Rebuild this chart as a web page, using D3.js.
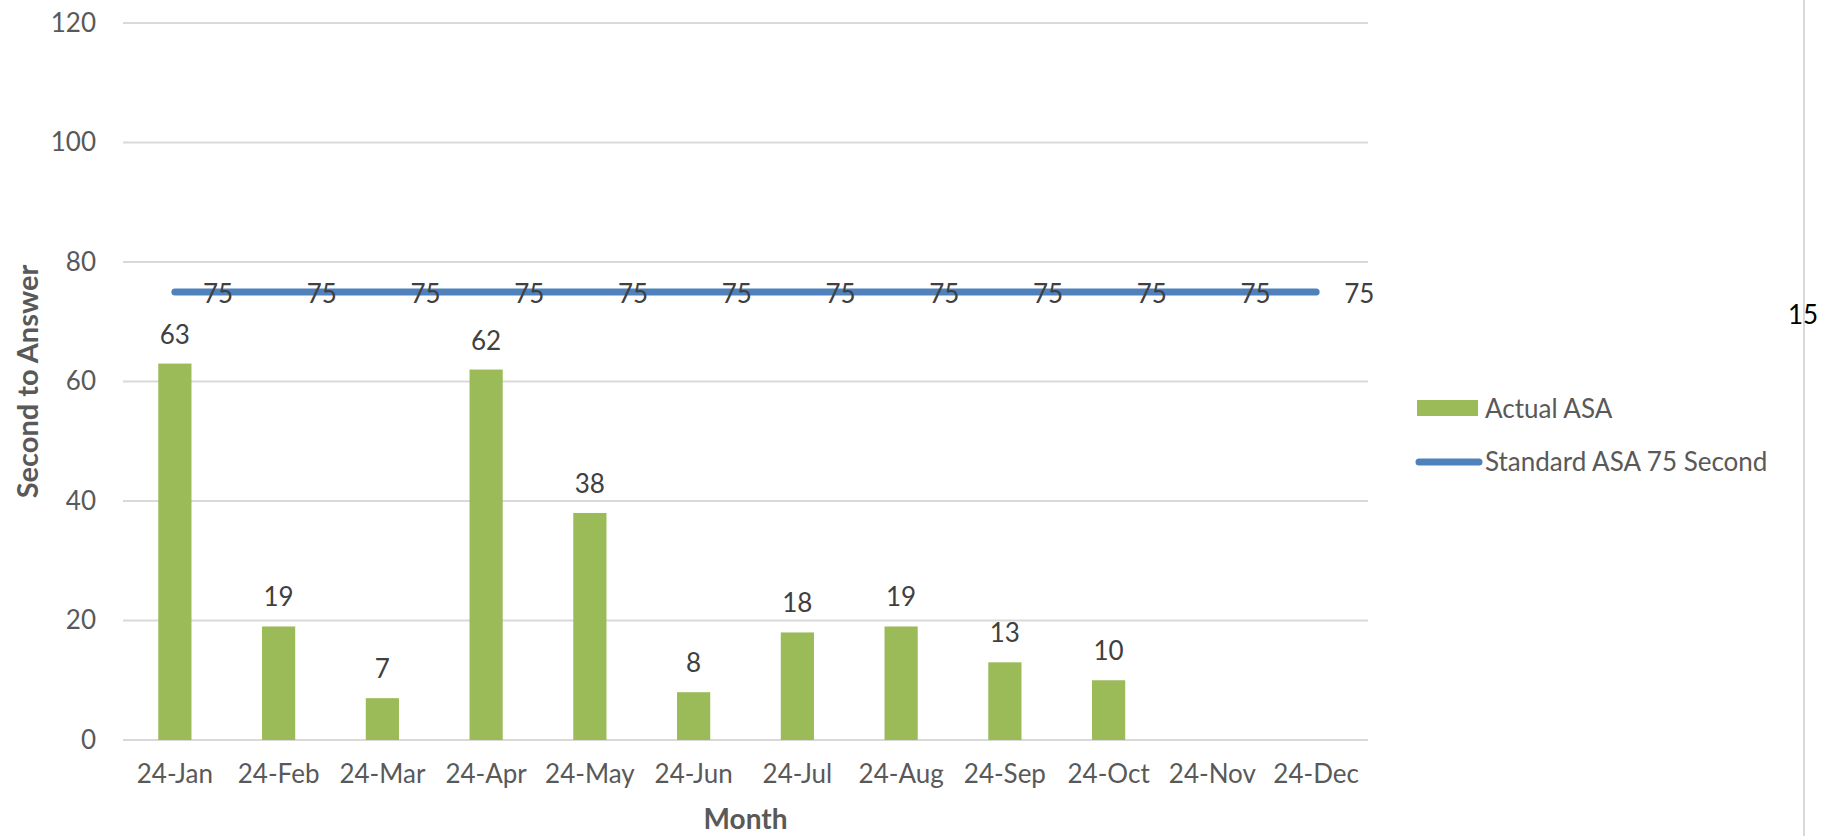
<!DOCTYPE html>
<html>
<head>
<meta charset="utf-8">
<script src="https://cdn.jsdelivr.net/npm/d3@7"></script>
<style>
  body { margin: 0; background: #fff; }
  text { font-family: Lato, "Open Sans", sans-serif; }
</style>
</head>
<body>
<script>
var months = ["24-Jan", "24-Feb", "24-Mar", "24-Apr", "24-May", "24-Jun",
              "24-Jul", "24-Aug", "24-Sep", "24-Oct", "24-Nov", "24-Dec"]
var actualASA = [63, 19, 7, 62, 38, 8, 18, 19, 13, 10, null, null]
var standardASA = [75, 75, 75, 75, 75, 75, 75, 75, 75, 75, 75, 75]
var yTicks = [0, 20, 40, 60, 80, 100, 120]

var screen = {width: 1828, height: 836}
var plot = {left: 123, right: 1368, top: 23, bottom: 740}
var fs = 26

var svg = d3.select("body")
            .append("svg")
            .attr("width", screen.width)
            .attr("height", screen.height);

var x = d3.scaleBand()
          .domain(months)
          .range([plot.left, plot.right])
          .paddingInner(0.68)
          .paddingOuter(0.34);

var y = d3.scaleLinear()
          .domain([0, 120])
          .range([plot.bottom, plot.top]);

var center = function(m) { return x(m) + x.bandwidth()/2; }

// gridlines
svg.append("g")
   .selectAll("line")
   .data(yTicks)
   .enter()
   .append("line")
   .attr("x1", plot.left)
   .attr("x2", plot.right)
   .attr("y1", function(d) { return y(d); })
   .attr("y2", function(d) { return y(d); })
   .attr("stroke", "#d9d9d9")
   .attr("stroke-width", 2);

// y axis labels
var yAxis = d3.axisLeft(y).tickValues(yTicks).tickSize(0).tickPadding(27);
svg.append("g")
   .attr("transform", "translate(" + plot.left + ",0)")
   .call(yAxis)
   .call(function(g) { g.select(".domain").remove(); })
   .selectAll("text")
   .attr("font-size", fs)
   .attr("font-family", "Lato")
   .attr("fill", "#595959");

// x axis labels
var xAxis = d3.axisBottom(x).tickSize(0).tickPadding(25);
svg.append("g")
   .attr("transform", "translate(0," + plot.bottom + ")")
   .call(xAxis)
   .call(function(g) { g.select(".domain").remove(); })
   .selectAll("text")
   .attr("font-size", fs)
   .attr("font-family", "Lato")
   .attr("fill", "#595959");

// bars
var barData = months.map(function(m, i) { return {m: m, v: actualASA[i]}; })
                    .filter(function(d) { return d.v != null; });

svg.append("g")
   .selectAll("rect")
   .data(barData)
   .enter()
   .append("rect")
   .attr("x", function(d) { return x(d.m); })
   .attr("y", function(d) { return y(d.v); })
   .attr("width", x.bandwidth())
   .attr("height", function(d) { return y(0) - y(d.v); })
   .attr("fill", "#9bbb59");

svg.append("g")
   .selectAll("text")
   .data(barData)
   .enter()
   .append("text")
   .attr("x", function(d) { return center(d.m); })
   .attr("y", function(d) { return y(d.v) - 30; })
   .attr("text-anchor", "middle")
   .attr("dominant-baseline", "central")
   .attr("font-size", fs)
   .attr("fill", "#404040")
   .text(function(d) { return d.v; });

// standard line
var lineData = months.map(function(m, i) { return {m: m, v: standardASA[i]}; });
var line = d3.line()
             .x(function(d) { return center(d.m); })
             .y(function(d) { return y(d.v); });

svg.append("path")
   .datum(lineData)
   .attr("d", line)
   .attr("fill", "none")
   .attr("stroke", "#4f81bd")
   .attr("stroke-width", 7)
   .attr("stroke-linecap", "round");

svg.append("g")
   .selectAll("text")
   .data(lineData)
   .enter()
   .append("text")
   .attr("x", function(d) { return center(d.m) + 28; })
   .attr("y", function(d) { return y(d.v) + 1; })
   .attr("dominant-baseline", "central")
   .attr("font-size", fs)
   .attr("fill", "#404040")
   .text(function(d) { return d.v; });

// axis titles
svg.append("text")
   .attr("x", (plot.left + plot.right)/2)
   .attr("y", 818)
   .attr("text-anchor", "middle")
   .attr("dominant-baseline", "central")
   .attr("font-size", 28)
   .attr("font-weight", "bold")
   .attr("fill", "#595959")
   .text("Month");

svg.append("text")
   .attr("transform", "translate(26," + (plot.top + plot.bottom)/2 + ") rotate(-90)")
   .attr("text-anchor", "middle")
   .attr("dominant-baseline", "central")
   .attr("font-size", 29)
   .attr("font-weight", "bold")
   .attr("fill", "#595959")
   .text("Second to Answer");

// legend
var legend = svg.append("g").attr("transform", "translate(1417,0)");
legend.append("rect")
      .attr("x", 0).attr("y", 400)
      .attr("width", 61).attr("height", 16)
      .attr("fill", "#9bbb59");
legend.append("text")
      .attr("x", 68).attr("y", 408)
      .attr("dominant-baseline", "central")
      .attr("font-size", fs)
      .attr("fill", "#595959")
      .text("Actual ASA");
legend.append("line")
      .attr("x1", 2).attr("x2", 62)
      .attr("y1", 462).attr("y2", 462)
      .attr("stroke", "#4f81bd")
      .attr("stroke-width", 7)
      .attr("stroke-linecap", "round");
legend.append("text")
      .attr("x", 68).attr("y", 461)
      .attr("dominant-baseline", "central")
      .attr("font-size", fs)
      .attr("fill", "#595959")
      .text("Standard ASA 75 Second");

// page edge bits
svg.append("line")
   .attr("x1", 1804).attr("x2", 1804)
   .attr("y1", 0).attr("y2", screen.height)
   .attr("stroke", "#d9d9d9")
   .attr("stroke-width", 2);

svg.append("text")
   .attr("x", 1788).attr("y", 314)
   .attr("dominant-baseline", "central")
   .attr("font-family", "Liberation Sans")
   .attr("font-size", 26)
   .attr("fill", "#000")
   .text("15");
</script>
</body>
</html>
